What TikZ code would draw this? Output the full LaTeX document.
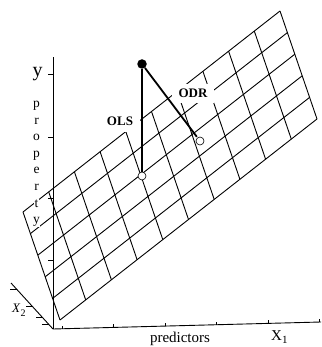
\documentclass[tikz,border=0pt]{standalone}
\usepackage{fontspec}
\setmainfont{Liberation Serif}
\usetikzlibrary{positioning}

\begin{document}
\begin{tikzpicture}[
    x=1pt, y=-1pt,
    gridline/.style={line width=0.9pt},
    axisline/.style={line width=0.9pt},
    fitline/.style={line width=1.8pt},
    axlabel/.style={font=\fontsize{15}{15}\selectfont, inner sep=0pt},
    letter/.style={font=\fontsize{13.5}{13.5}\selectfont, fill=white, inner sep=0.6pt, anchor=base},
    method/.style={font=\fontsize{13}{13}\selectfont\bfseries, fill=white, anchor=base},
    fitpt/.style={circle, draw, fill=white, line width=0.6pt, minimum size=8pt, inner sep=0pt},
    obspt/.style={circle, fill=black, minimum size=9.5pt, inner sep=0pt}
]
    \useasboundingbox (0,0) rectangle (321,347);

    % Plane
    \foreach \i in {0,...,10}
        \draw[gridline] (60+25.7*\i, 320-20.1*\i) -- ++(-37,-108);
    \foreach \j in {0,...,5}
        \draw[gridline] (60-7.4*\j, 320-21.6*\j) -- ++(257,-201);

    % Axes
    \coordinate (origin) at (53,329);
    \coordinate (ytop) at (53,57);
    \coordinate (xoneend) at (321,322);
    \coordinate (xtwoend) at (11,283);
    \draw[axisline] (origin) -- (ytop);
    \draw[axisline] (origin) -- (xoneend);
    \draw[axisline] (origin) -- (xtwoend);
    \foreach \t in {74,137,198,260}
        \draw[axisline] (48,\t) -- (53,\t);
    \foreach \t in {62,113.5,165,216.5,268,319}
        \draw[axisline] (\t,{329-7*(\t-53)/268}) -- ++(0,-3);
    \foreach \t in {289,306,317,324}
        \draw[axisline] ({11+(\t-283)*42/46-6},\t) -- ++(7,0);

    % Axis labels
    \node[axlabel, font=\fontsize{20}{20}\selectfont, anchor=base] (ylab) at (37.5,77) {y};
    \foreach \c [count=\k] in {p,r,o,p,e,r,t,y}
        \node[letter] (prop\k) at (36.5,{107.5+16.6*(\k-1)}) {\c};
    \node[axlabel, anchor=base] (predictors) at (180,342) {predictors};
    \node[axlabel, anchor=base west] (xone) at (271,340) {X\raisebox{-3pt}{\fontsize{11}{11}\selectfont 1}};
    \node[axlabel, font=\fontsize{13}{13}\selectfont, anchor=base west] (xtwo) at (12,312) {\textit{X}\raisebox{-4pt}{\fontsize{10}{10}\selectfont 2}};

    % Methods
    \node[method, inner xsep=6.5pt, inner ysep=6pt] (ols) at (120,126) {OLS};
    \node[method, inner xsep=7pt, inner ysep=5pt] (odr) at (193,98) {ODR};

    % Points
    \node[obspt] (obs) at (142,64) {};
    \node[fitpt] (olsfit) at (142,176) {};
    \node[fitpt] (odrfit) at (200,141) {};
    \draw[fitline] (obs) -- (olsfit);
    \draw[fitline, shorten >=1pt] (obs) -- (odrfit);

\end{tikzpicture}
\end{document}
